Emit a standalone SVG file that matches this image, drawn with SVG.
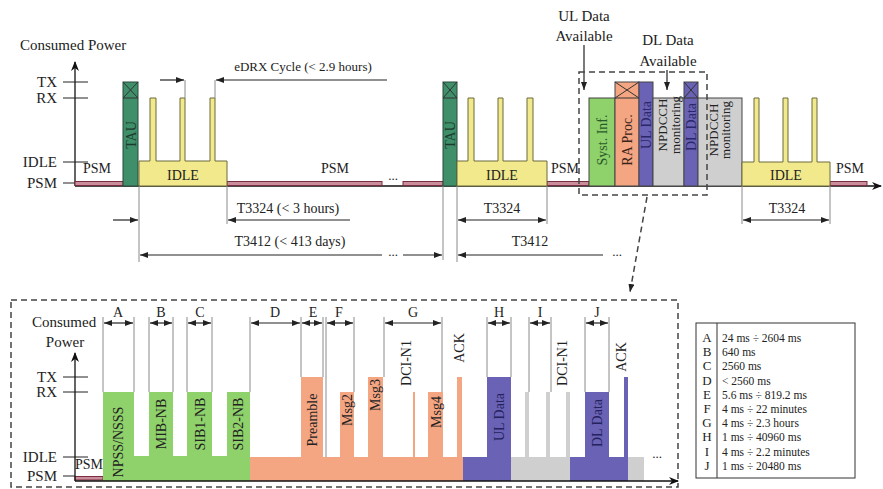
<svg xmlns="http://www.w3.org/2000/svg" width="883" height="489" viewBox="0 0 883 489">
<defs>
<marker id="a" viewBox="0 0 8 6" refX="8" refY="3" markerWidth="8" markerHeight="6" orient="auto-start-reverse" markerUnits="userSpaceOnUse"><path d="M0,0 L8,3 L0,6 z" fill="#222"/></marker>
<marker id="ax" viewBox="0 0 10 8" refX="9" refY="4" markerWidth="10" markerHeight="8" orient="auto" markerUnits="userSpaceOnUse"><path d="M0,0 L10,4 L0,8 L3,4 z" fill="#111"/></marker>
<style>
text{font-family:"Liberation Serif","Times New Roman",serif;fill:#222}
.t14{font-size:14px}
.t15{font-size:15px}
.t13{font-size:13px}
.leg{font-size:11.5px}
.mid{text-anchor:middle}
.end{text-anchor:end}
.rot{text-anchor:middle;dominant-baseline:central}
.psm{fill:#c98d9c;stroke:#7a2c40;stroke-width:1}
.tau{fill:#3f8f6b;stroke:#2a4a3a;stroke-width:1}
.idle{fill:#f2e98c;stroke:#6a6a3a;stroke-width:1}
.grn{fill:#8fd16a}
.org{fill:#f4a582}
.blu{fill:#6a62b4}
.gry{fill:#cfcfcf}
.bo{stroke:#444;stroke-width:1}
.ax{stroke:#111;stroke-width:1.3;fill:none}
.tick{stroke:#222;stroke-width:1}
.guide{stroke:#8a8a8a;stroke-width:1;fill:none}
.dim{stroke:#222;stroke-width:1.2;fill:none}
.dash{stroke:#444;stroke-width:1.5;stroke-dasharray:6,4;fill:none}
.x{stroke:#333;stroke-width:1;fill:none}
</style>
</defs>
<rect width="883" height="489" fill="#fff"/>

<!-- ===== TOP DIAGRAM ===== -->
<g id="top-axes">
<text class="t15" x="20" y="50">Consumed Power</text>
<line class="ax" x1="75" y1="186" x2="75" y2="62" marker-end="url(#ax)"/>
<line class="ax" x1="75" y1="186" x2="881" y2="186" marker-end="url(#ax)"/>
<line class="tick" x1="63" y1="82" x2="88" y2="82"/>
<line class="tick" x1="63" y1="98" x2="88" y2="98"/>
<line class="tick" x1="63" y1="162" x2="88" y2="162"/>
<line class="tick" x1="63" y1="183" x2="75" y2="183"/>
<text class="t15 end" x="57" y="87">TX</text>
<text class="t15 end" x="57" y="103">RX</text>
<text class="t15 end" x="57" y="167">IDLE</text>
<text class="t15 end" x="57" y="188">PSM</text>
</g>

<g id="psm-bands">
<rect class="psm" x="75" y="181.5" width="48" height="4"/>
<rect class="psm" x="227" y="181.5" width="155" height="4"/>
<rect class="psm" x="403" y="181.5" width="40" height="4"/>
<rect class="psm" x="547" y="181.5" width="42" height="4"/>
<rect class="psm" x="830" y="181.5" width="37" height="4"/>
<text class="t14 mid" x="97" y="173">PSM</text>
<text class="t14 mid" x="335" y="173">PSM</text>
<text class="t13 mid" x="393" y="180">...</text>
<text class="t14 mid" x="565" y="173">PSM</text>
<text class="t14 mid" x="850" y="173">PSM</text>
</g>

<g id="tau1">
<rect class="tau" x="123" y="82" width="15" height="104"/>
<line class="x" x1="123" y1="98" x2="138" y2="98"/>
<path class="x" d="M123,82 L138,98 M138,82 L123,98"/>
<text class="t14 rot" transform="rotate(-90 131 135)" x="131" y="135" style="fill:#1e3a2c">TAU</text>
</g>
<g id="idle1">
<path class="idle" d="M139,186 V161 H150 V98 H156 V161 H180 V98 H185 V161 H210 V98 H215 V161 H227 V186 Z"/>
<text class="t14 mid" x="183" y="180">IDLE</text>
</g>
<g id="tau2">
<rect class="tau" x="443" y="82" width="14" height="104"/>
<line class="x" x1="443" y1="98" x2="457" y2="98"/>
<path class="x" d="M443,82 L457,98 M457,82 L443,98"/>
<text class="t14 rot" transform="rotate(-90 450 135)" x="450" y="135" style="fill:#1e3a2c">TAU</text>
</g>
<g id="idle2">
<path class="idle" d="M457,186 V161 H468 V98 H474 V161 H498 V98 H503 V161 H527 V98 H533 V161 H547 V186 Z"/>
<text class="t14 mid" x="502" y="180">IDLE</text>
</g>

<g id="syst-inf">
<rect class="grn bo" x="589" y="98" width="26" height="88"/>
<text class="t14 rot" transform="rotate(-90 602 140)" x="602" y="140" style="fill:#2a5a2a">Syst. Inf.</text>
</g>
<g id="ra-proc">
<rect class="org bo" x="615" y="82" width="24" height="104"/>
<line class="x" x1="615" y1="98" x2="639" y2="98"/>
<path class="x" d="M615,82 L639,98 M639,82 L615,98"/>
<text class="t14 rot" transform="rotate(-90 627 140)" x="627" y="140" style="fill:#3a2418">RA Proc.</text>
</g>
<g id="ul-data-top">
<rect class="blu bo" x="639" y="82" width="14" height="104"/>
<text class="t14 rot" transform="rotate(-90 646 125)" x="646" y="125" style="fill:#2a2868">UL Data</text>
</g>
<g id="npdcch1">
<rect class="gry bo" x="653" y="98" width="31" height="88"/>
<text class="t13 rot" transform="rotate(-90 662 125)" x="662" y="125">NPDCCH</text>
<text class="t13 rot" transform="rotate(-90 675 125)" x="675" y="125">monitoring</text>
</g>
<g id="dl-data-top">
<rect class="blu bo" x="684" y="82" width="14" height="104"/>
<line class="x" x1="684" y1="98" x2="698" y2="98"/>
<path class="x" d="M684,82 L698,98 M698,82 L684,98"/>
<text class="t14 rot" transform="rotate(-90 691 127)" x="691" y="127" style="fill:#2a2868">DL Data</text>
</g>
<g id="npdcch2">
<rect class="gry bo" x="698" y="98" width="44" height="88"/>
<text class="t13 rot" transform="rotate(-90 713 130)" x="713" y="130">NPDCCH</text>
<text class="t13 rot" transform="rotate(-90 725 130)" x="725" y="130">monitoring</text>
</g>
<g id="idle3">
<path class="idle" d="M742,186 V162 H754 V98 H759 V162 H783 V98 H788 V162 H812 V98 H817 V162 H830 V186 Z"/>
<text class="t14 mid" x="786" y="180">IDLE</text>
</g>

<g id="ul-available">
<text class="t15 mid" x="584" y="21">UL Data</text>
<text class="t15 mid" x="584" y="41">Available</text>
</g>
<g id="dl-available">
<text class="t15 mid" x="668" y="45">DL Data</text>
<text class="t15 mid" x="668" y="66">Available</text>
</g>

<g id="top-labels">
<text class="t13 mid" x="303" y="71">eDRX Cycle (&lt; 2.9 hours)</text>
<text class="t14 mid" x="288" y="213">T3324 (&lt; 3 hours)</text>
<text class="t14 mid" x="290" y="246">T3412 (&lt; 413 days)</text>
<text class="t13 mid" x="393" y="256">...</text>
<text class="t14 mid" x="502" y="213">T3324</text>
<text class="t14 mid" x="530" y="246">T3412</text>
<text class="t13 mid" x="617" y="256">...</text>
<text class="t14 mid" x="787" y="213">T3324</text>
</g>

<g id="connectors">
<line class="guide" x1="185" y1="80" x2="185" y2="98"/>
<line class="guide" x1="215" y1="80" x2="215" y2="98"/>
<line class="dim" x1="160" y1="80" x2="184" y2="80" marker-end="url(#a)"/>
<line class="dim" x1="387" y1="80" x2="216" y2="80" marker-end="url(#a)"/>
<line class="guide" x1="139" y1="186" x2="139" y2="262"/>
<line class="guide" x1="227" y1="186" x2="227" y2="224"/>
<line class="guide" x1="443" y1="186" x2="443" y2="260"/>
<line class="guide" x1="457" y1="186" x2="457" y2="262"/>
<line class="guide" x1="547" y1="186" x2="547" y2="224"/>
<line class="guide" x1="742" y1="186" x2="742" y2="224"/>
<line class="guide" x1="830" y1="186" x2="830" y2="224"/>
<line class="dim" x1="113" y1="220" x2="138" y2="220" marker-end="url(#a)"/>
<line class="dim" x1="350" y1="220" x2="228" y2="220" marker-end="url(#a)"/>
<line class="dim" x1="382" y1="255" x2="140" y2="255" marker-end="url(#a)"/>
<line class="dim" x1="403" y1="255" x2="442" y2="255" marker-end="url(#a)"/>
<line class="dim" x1="458" y1="220" x2="546" y2="220" marker-start="url(#a)" marker-end="url(#a)"/>
<line class="dim" x1="603" y1="255" x2="458" y2="255" marker-end="url(#a)"/>
<line class="dim" x1="743" y1="220" x2="829" y2="220" marker-start="url(#a)" marker-end="url(#a)"/>
<line class="dim" x1="584" y1="45" x2="584" y2="90" marker-end="url(#a)"/>
<line class="dim" x1="667" y1="70" x2="667" y2="90" marker-end="url(#a)"/>
<rect class="dash" x="579" y="72" width="128" height="123"/>
<line class="dash" x1="647" y1="197" x2="630" y2="292" marker-end="url(#a)"/>
<rect class="dash" x="11" y="300" width="667" height="187"/>
</g>

<!-- ===== BOTTOM DIAGRAM ===== -->
<g id="bottom-axes">
<text class="t15" x="32" y="327">Consumed</text>
<text class="t15 mid" x="65" y="347">Power</text>
<line class="tick" x1="63" y1="377" x2="88" y2="377"/>
<line class="tick" x1="63" y1="392" x2="88" y2="392"/>
<line class="tick" x1="63" y1="457" x2="88" y2="457"/>
<line class="tick" x1="63" y1="476" x2="75" y2="476"/>
<text class="t15 end" x="57" y="382">TX</text>
<text class="t15 end" x="57" y="397">RX</text>
<text class="t15 end" x="57" y="462">IDLE</text>
<text class="t15 end" x="57" y="481">PSM</text>
<rect class="psm" x="75" y="476.5" width="28" height="3.5"/>
<text class="t14 mid" x="89" y="469">PSM</text>
</g>

<g id="sync-green">
<path class="grn" d="M103,481 V392 H134 V456 H149 V392 H173 V456 H187 V392 H212 V456 H227 V392 H250 V481 Z"/>
<text class="t14 rot" transform="rotate(-90 118 442)" x="118" y="442">NPSS/NSSS</text>
<text class="t14 rot" transform="rotate(-90 161 424)" x="161" y="424">MIB-NB</text>
<text class="t14 rot" transform="rotate(-90 200 424)" x="200" y="424">SIB1-NB</text>
<text class="t14 rot" transform="rotate(-90 238 424)" x="238" y="424">SIB2-NB</text>
</g>
<g id="ra-orange">
<path class="org" d="M250,481 V457 H301 V377 H323 V457 H340 V392 H354 V457 H368 V377 H383 V457 H413 V392 H415 V457 H428 V392 H443 V457 H457 V377 H462 V457 H463 V481 Z"/>
<text class="t14 rot" transform="rotate(-90 312 420)" x="312" y="420">Preamble</text>
<text class="t14 rot" transform="rotate(-90 347 410)" x="347" y="410">Msg2</text>
<text class="t14 rot" transform="rotate(-90 375 395)" x="375" y="395">Msg3</text>
<text class="t14 rot" transform="rotate(-90 406 363)" x="406" y="363">DCI-N1</text>
<text class="t14 rot" transform="rotate(-90 436 412)" x="436" y="412">Msg4</text>
<text class="t14 rot" transform="rotate(-90 459 348)" x="459" y="348">ACK</text>
</g>
<g id="ul-data">
<path class="blu" d="M463,481 V457 H487 V377 H511 V481 Z"/>
<text class="t14 rot" transform="rotate(-90 499 417)" x="499" y="417" style="fill:#25235e">UL Data</text>
</g>
<g id="npdcch-gray">
<path class="gry" d="M511,481 V457 H525 V392 H529 V457 H546 V392 H550 V457 H566 V392 H570 V481 Z"/>
<text class="t14 rot" transform="rotate(-90 562 363)" x="562" y="363">DCI-N1</text>
</g>
<g id="dl-data">
<path class="blu" d="M570,481 V457 H585 V392 H609 V457 H624 V377 H628 V481 Z"/>
<text class="t14 rot" transform="rotate(-90 597 423)" x="597" y="423" style="fill:#25235e">DL Data</text>
<text class="t14 rot" transform="rotate(-90 621 357)" x="621" y="357">ACK</text>
</g>
<g id="tail-gray">
<path class="gry" d="M628,481 V457 H644 V481 Z"/>
<text class="t13 mid" x="657" y="458">...</text>
</g>

<g id="bottom-connectors">
<line class="ax" x1="75" y1="481" x2="75" y2="353" marker-end="url(#ax)"/>
<line class="ax" x1="75" y1="481" x2="678" y2="481" marker-end="url(#ax)"/>
<path class="guide" d="M103,317 V392 M134,317 V392 M149,317 V392 M173,317 V392 M187,317 V392 M212,317 V392 M250,317 V392 M301,317 V377 M323,317 V377 M326,317 V457 M354,317 V392 M384,317 V377 M442,317 V392 M487,317 V377 M511,317 V377 M529,317 V392 M551,317 V392 M585,317 V392 M609,317 V392"/>
<line class="dim" x1="104" y1="323" x2="133" y2="323" marker-start="url(#a)" marker-end="url(#a)"/>
<line class="dim" x1="150" y1="323" x2="172" y2="323" marker-start="url(#a)" marker-end="url(#a)"/>
<line class="dim" x1="188" y1="323" x2="211" y2="323" marker-start="url(#a)" marker-end="url(#a)"/>
<line class="dim" x1="251" y1="323" x2="300" y2="323" marker-start="url(#a)" marker-end="url(#a)"/>
<line class="dim" x1="302" y1="323" x2="322" y2="323" marker-start="url(#a)" marker-end="url(#a)"/>
<line class="dim" x1="327" y1="323" x2="353" y2="323" marker-start="url(#a)" marker-end="url(#a)"/>
<line class="dim" x1="385" y1="323" x2="441" y2="323" marker-start="url(#a)" marker-end="url(#a)"/>
<line class="dim" x1="488" y1="323" x2="510" y2="323" marker-start="url(#a)" marker-end="url(#a)"/>
<line class="dim" x1="530" y1="323" x2="550" y2="323" marker-start="url(#a)" marker-end="url(#a)"/>
<line class="dim" x1="586" y1="323" x2="608" y2="323" marker-start="url(#a)" marker-end="url(#a)"/>
<g class="t14">
<text class="mid" x="118" y="317">A</text>
<text class="mid" x="161" y="317">B</text>
<text class="mid" x="200" y="317">C</text>
<text class="mid" x="275" y="317">D</text>
<text class="mid" x="313" y="317">E</text>
<text class="mid" x="339" y="317">F</text>
<text class="mid" x="413" y="317">G</text>
<text class="mid" x="499" y="317">H</text>
<text class="mid" x="540" y="317">I</text>
<text class="mid" x="597" y="317">J</text>
</g>
</g>

<g id="legend">
<rect x="696" y="323" width="159" height="155" fill="#fff" stroke="#333" stroke-width="1"/>
<line x1="717" y1="323" x2="717" y2="478" stroke="#333" stroke-width="1"/>
<g class="t13 mid">
<text x="707" y="342">A</text>
<text x="707" y="356">B</text>
<text x="707" y="370">C</text>
<text x="707" y="385">D</text>
<text x="707" y="399">E</text>
<text x="707" y="413">F</text>
<text x="707" y="427">G</text>
<text x="707" y="441">H</text>
<text x="707" y="456">I</text>
<text x="707" y="470">J</text>
</g>
<g class="leg">
<text x="722" y="342">24 ms ÷ 2604 ms</text>
<text x="722" y="356">640 ms</text>
<text x="722" y="370">2560 ms</text>
<text x="722" y="385">&lt; 2560 ms</text>
<text x="722" y="399">5.6 ms ÷ 819.2 ms</text>
<text x="722" y="413">4 ms ÷ 22 minutes</text>
<text x="722" y="427">4 ms ÷ 2.3 hours</text>
<text x="722" y="441">1 ms ÷ 40960 ms</text>
<text x="722" y="456">4 ms ÷ 2.2 minutes</text>
<text x="722" y="470">1 ms ÷ 20480 ms</text>
</g>
</g>
</svg>
